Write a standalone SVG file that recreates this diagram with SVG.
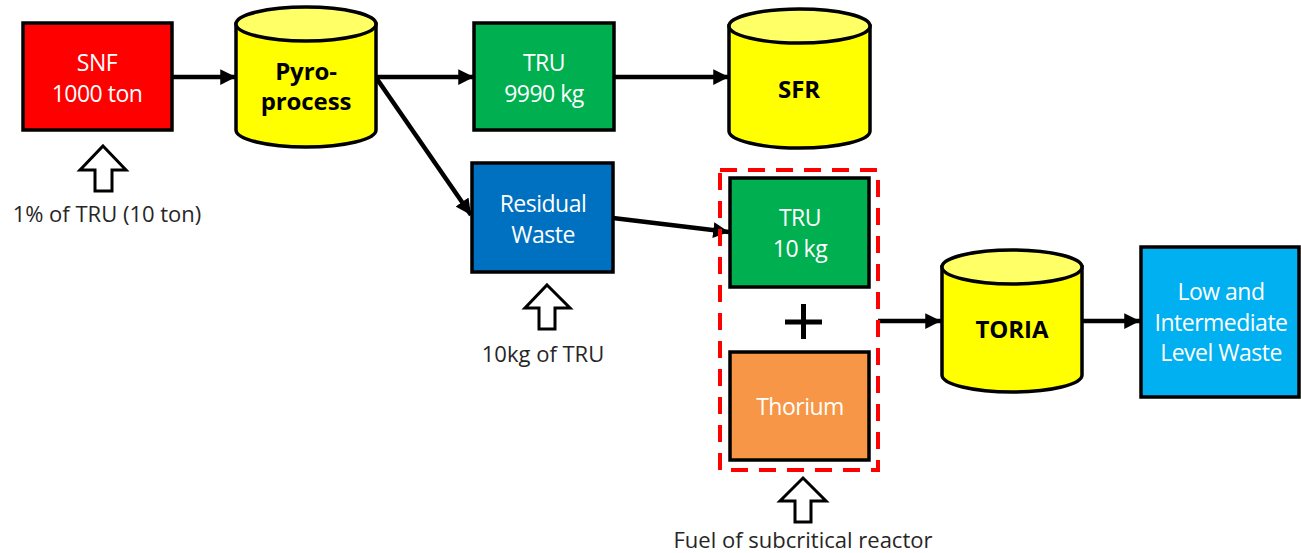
<svg xmlns="http://www.w3.org/2000/svg" width="1301" height="553" viewBox="0 0 1301 553">
<defs>
<marker id="ah" viewBox="0 0 10 10" refX="10" refY="5" markerWidth="3.6" markerHeight="3.5" orient="auto" markerUnits="strokeWidth">
<path d="M0,0 L10,5 L0,10 Z" fill="#000"/>
</marker>
<style>
.box{stroke:#000;stroke-width:3.5}
.cyl{fill:#FFFF00;stroke:#000;stroke-width:3.5}
.cyltop{fill:#FFFF66;stroke:#000;stroke-width:3.5}
.wl{font-family:"Open Sans","Noto Sans",sans-serif;font-size:23px;fill:#fff;text-anchor:middle;letter-spacing:-0.5px}
.bl{font-family:"Open Sans","Noto Sans",sans-serif;font-size:24px;font-weight:bold;fill:#000;text-anchor:middle;letter-spacing:-0.1px}
.note{font-family:"Open Sans","Noto Sans",sans-serif;font-size:22px;fill:#262626;text-anchor:middle;letter-spacing:0px}
.con{stroke:#000;stroke-width:4.5;fill:none;marker-end:url(#ah)}
.hollow{fill:#fff;stroke:#000;stroke-width:3}
</style>
</defs>
<rect width="1301" height="553" fill="#fff"/>

<g id="connectors">
<line class="con" x1="172" y1="77" x2="236" y2="77"/>
<line class="con" x1="376" y1="77" x2="474" y2="77"/>
<line class="con" x1="377" y1="79" x2="471" y2="215"/>
<line class="con" x1="614" y1="77" x2="729" y2="77"/>
<line class="con" x1="613" y1="218" x2="729" y2="232"/>
<line class="con" x1="878" y1="321" x2="941" y2="321"/>
<line class="con" x1="1082" y1="321" x2="1140" y2="321"/>
</g>

<g id="snf">
<rect class="box" x="23" y="23" width="149" height="107" fill="#FF0000"/>
<text class="wl" x="97" y="71">SNF</text>
<text class="wl" x="97" y="102">1000 ton</text>
</g>

<g id="pyro">
<path class="cyl" d="M236,24 L236,130 A70,17 0 0 0 376,130 L376,24 Z"/>
<ellipse class="cyltop" cx="306" cy="24" rx="70" ry="17"/>
<text class="bl" x="306" y="80">Pyro-</text>
<text class="bl" x="306" y="110">process</text>
</g>

<g id="tru9990">
<rect class="box" x="474" y="23" width="140" height="107" fill="#00B050"/>
<text class="wl" x="544" y="71">TRU</text>
<text class="wl" x="544" y="102">9990 kg</text>
</g>

<g id="sfr">
<path class="cyl" d="M729,26 L729,131 A70.5,17 0 0 0 870,131 L870,26 Z"/>
<ellipse class="cyltop" cx="799.5" cy="26" rx="70.5" ry="17"/>
<text class="bl" x="799" y="98">SFR</text>
</g>

<g id="residual">
<rect class="box" x="472" y="163" width="141" height="109" fill="#0070C0"/>
<text class="wl" x="543" y="212">Residual</text>
<text class="wl" x="543" y="243">Waste</text>
</g>

<g id="fuel-group">
<rect x="720" y="170" width="158" height="300" fill="none" stroke="#FF0000" stroke-width="4" stroke-dasharray="17,11"/>
</g>

<g id="tru10">
<rect class="box" x="730" y="178" width="139" height="109" fill="#00B050"/>
<text class="wl" x="800" y="226">TRU</text>
<text class="wl" x="800" y="257">10 kg</text>
</g>

<g id="plus">
<line x1="785" y1="322" x2="822" y2="322" stroke="#000" stroke-width="5"/>
<line x1="803.5" y1="304" x2="803.5" y2="339" stroke="#000" stroke-width="5"/>
</g>

<g id="thorium">
<rect class="box" x="730" y="352" width="139" height="108" fill="#F79646"/>
<text class="wl" x="800" y="415">Thorium</text>
</g>

<g id="toria">
<path class="cyl" d="M942,267 L942,375 A70,17 0 0 0 1082,375 L1082,267 Z"/>
<ellipse class="cyltop" cx="1012" cy="267" rx="70" ry="17"/>
<text class="bl" x="1012" y="338">TORIA</text>
</g>

<g id="lilw">
<rect class="box" x="1141" y="247" width="158" height="150" fill="#00B0F0"/>
<text class="wl" x="1221" y="300">Low and</text>
<text class="wl" x="1221" y="331">Intermediate</text>
<text class="wl" x="1221" y="361">Level Waste</text>
</g>

<g id="note-snf">
<path class="hollow" d="M103,146 L126,170 L112,170 L112,191 L95,191 L95,170 L80,170 Z"/>
<text class="note" x="107" y="222">1% of TRU (10 ton)</text>
</g>

<g id="note-residual">
<path class="hollow" d="M547,285 L570,308 L555,308 L555,329 L539,329 L539,308 L525,308 Z"/>
<text class="note" x="543" y="362">10kg of TRU</text>
</g>

<g id="note-fuel">
<path class="hollow" d="M803,478 L826,501 L811,501 L811,522 L795,522 L795,501 L780,501 Z"/>
<text class="note" x="803" y="548">Fuel of subcritical reactor</text>
</g>
</svg>
